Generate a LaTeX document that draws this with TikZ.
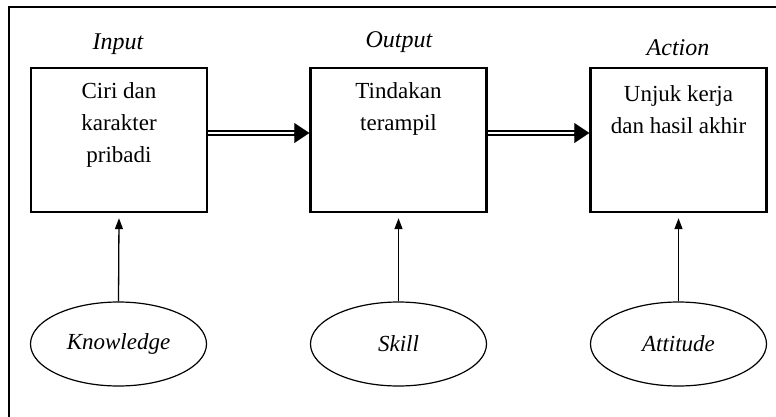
\documentclass[tikz,border=0pt]{standalone}
\usepackage{fontspec}
\setmainfont{Liberation Serif}
\usetikzlibrary{arrows.meta,shapes.geometric}
\begin{document}
\begin{tikzpicture}[x=1pt,y=-1pt,
  boxnode/.style={draw,line width=2.4pt,minimum width=176pt,minimum height=144pt,inner sep=0pt},
  boxtext/.style={anchor=north,align=center,font=\fontsize{23}{32}\selectfont,inner sep=0pt},
  headlabel/.style={font=\fontsize{24}{28}\selectfont\itshape,inner sep=0pt},
  ellnode/.style={draw,ellipse,line width=1.2pt,minimum width=176pt,minimum height=84pt,inner sep=0pt,font=\fontsize{23}{27}\selectfont\itshape},
  uparrow/.style={line width=1.3pt,-{Triangle[length=11pt,width=8pt]}},
  dblline/.style={double,double distance=2pt,line width=1.6pt},
  dbltip/.style={-{Triangle[length=15pt,width=20pt]},line width=0.1pt}
]
\useasboundingbox (0,0) rectangle (776,417);
\fill[white] (0,0) rectangle (776,417);
\draw[line width=2.4pt] (9,430) -- (9,7) -- (790,7);

\node[boxnode] (b1) at (119,140) {};
\node[boxnode] (b2) at (398.5,140) {};
\node[boxnode] (b3) at (678.5,140) {};

\node[boxtext] (t1) at (119,82) {Ciri dan\\karakter\\pribadi};
\node[boxtext] (t2) at (398.5,82) {Tindakan\\terampil};
\node[boxtext] (t3) at (678.5,85) {Unjuk kerja\\dan hasil akhir};

\node[headlabel] (l1) at (118,44) {Input};
\node[headlabel] (l2) at (399,42) {Output};
\node[headlabel] (l3) at (678,48) {Action};

\node[ellnode] (e1) at (118.5,344) {Knowledge};
\node[ellnode] (e2) at (398.5,344) {Skill};
\node[ellnode] (e3) at (678.5,344) {Attitude};

\draw[uparrow] (e1.north) -- ([yshift=-5pt]b1.south);
\draw[uparrow] (e2.north) -- ([yshift=-5pt]b2.south);
\draw[uparrow] (e3.north) -- ([yshift=-5pt]b3.south);

\coordinate (a1s) at ([yshift=7pt]b1.east);
\coordinate (a1e) at ([yshift=7pt]b2.west);
\coordinate (a2s) at ([yshift=7pt]b2.east);
\coordinate (a2e) at ([yshift=7pt]b3.west);
\draw[dblline] (a1s) -- ([xshift=-12pt]a1e);
\draw[dbltip] ([xshift=-14pt]a1e) -- (a1e);
\draw[dblline] (a2s) -- ([xshift=-12pt]a2e);
\draw[dbltip] ([xshift=-14pt]a2e) -- (a2e);
\end{tikzpicture}
\end{document}
